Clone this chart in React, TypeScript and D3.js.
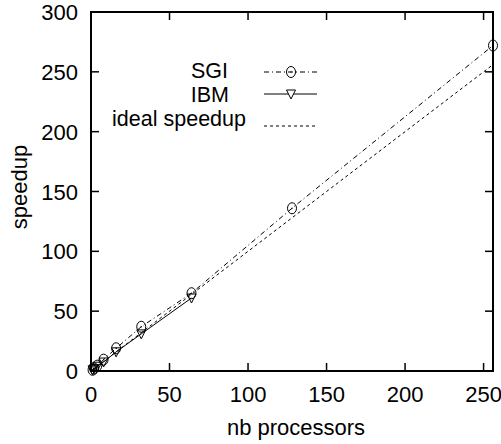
import React from "react";
import * as d3 from "d3";

const procs = [1, 2, 4, 8, 16, 32, 64, 128, 256];
const sgi = [1, 2, 4.5, 9.5, 19, 37, 65, 136, 272];
const ibmProcs = [1, 2, 4, 8, 16, 32, 64];
const ibm = [1, 2, 4, 7.5, 16, 31, 61];
const ideal = procs.map((p) => p);
const xTicks = [0, 50, 100, 150, 200, 250];
const yTicks = [0, 50, 100, 150, 200, 250, 300];

const W = 501, H = 444;
const L = 91, R = 493, T = 12, B = 371;
const font = "'Liberation Sans', Arial, Helvetica, sans-serif";
const FS = 22;
const LFS = 21.5;

export default function App() {
  const x = d3.scaleLinear().domain([0, 256]).range([L, R]);
  const y = d3.scaleLinear().domain([0, 300]).range([B, T]);
  const line = d3.line<[number, number]>().x((d) => x(d[0])).y((d) => y(d[1]));
  const sgiPts: [number, number][] = procs.map((p, i) => [p, sgi[i]]);
  const ibmPts: [number, number][] = ibmProcs.map((p, i) => [p, ibm[i]]);
  const idealPts: [number, number][] = procs.map((p, i) => [p, ideal[i]]);
  const tri = (cx: number, cy: number) =>
    `M${cx - 4.5},${cy - 4} L${cx + 4.5},${cy - 4} L${cx},${cy + 5} Z`;
  const circ = (cx: number, cy: number, k: string) => (
    <g key={k}>
      <ellipse cx={cx} cy={cy} rx={4.5} ry={5.5} fill="none" stroke="#000" strokeWidth={1} />
      <circle cx={cx} cy={cy} r={0.7} fill="#000" />
    </g>
  );
  const tk = 8;
  const legend = [
    { label: "SGI", ty: 78, ly: 72, dash: "5,3,1,3", mark: "c", tx: 228 },
    { label: "IBM", ty: 101.5, ly: 94, dash: "", mark: "t", tx: 229 },
    { label: "ideal speedup", ty: 125.5, ly: 126, dash: "3,3", mark: "", tx: 246 },
  ];
  return (
    <svg width={W} height={H} style={{ position: "absolute", left: 0, top: 0 }} fontFamily={font}>
      <rect width={W} height={H} fill="#fff" />
      {xTicks.map((t) => (
        <g key={"x" + t}>
          {t !== 0 && <line x1={x(t)} x2={x(t)} y1={B} y2={B - tk} stroke="#000" strokeWidth={1.5} />}
          {t !== 0 && <line x1={x(t)} x2={x(t)} y1={T} y2={T + tk} stroke="#000" strokeWidth={1.5} />}
          <text x={x(t)} y={402} fontSize={FS} textAnchor="middle">{t}</text>
        </g>
      ))}
      {yTicks.map((t) => (
        <g key={"y" + t}>
          {t !== 0 && t !== 300 && <line x1={L} x2={L + tk} y1={y(t)} y2={y(t)} stroke="#000" strokeWidth={1.5} />}
          {t !== 0 && t !== 300 && <line x1={R} x2={R - tk} y1={y(t)} y2={y(t)} stroke="#000" strokeWidth={1.5} />}
          <text x={78} y={y(t) + 8} fontSize={FS} textAnchor="end">{t}</text>
        </g>
      ))}
      <rect x={L} y={T} width={R - L} height={B - T} fill="none" stroke="#000" strokeWidth={2} />
      <path d={line(idealPts) || ""} fill="none" stroke="#000" strokeWidth={1} strokeDasharray="3,3" />
      <path d={line(sgiPts) || ""} fill="none" stroke="#000" strokeWidth={1} strokeDasharray="5,3,1,3" />
      <path d={line(ibmPts) || ""} fill="none" stroke="#000" strokeWidth={1} />
      {ibmPts.map((d, i) => (
        <path key={"t" + i} d={tri(x(d[0]), y(d[1]))} fill="none" stroke="#000" strokeWidth={1} />
      ))}
      {sgiPts.map((d, i) => circ(x(d[0]), y(d[1]), "c" + i))}
      {legend.map((l) => (
        <g key={l.label}>
          <text x={l.tx} y={l.ty} fontSize={LFS} textAnchor="end">{l.label}</text>
          <line x1={264} x2={317} y1={l.ly} y2={l.ly} stroke="#000" strokeWidth={1} strokeDasharray={l.dash || undefined} />
          {l.mark === "c" && circ(291, l.ly, "lc")}
          {l.mark === "t" && <path d={tri(291, l.ly)} fill="#fff" stroke="#000" strokeWidth={1} />}
        </g>
      ))}
      <text x={296} y={435} fontSize={FS} textAnchor="middle">nb processors</text>
      <text transform={`translate(27,187) rotate(-90)`} fontSize={FS} textAnchor="middle">speedup</text>
    </svg>
  );
}
